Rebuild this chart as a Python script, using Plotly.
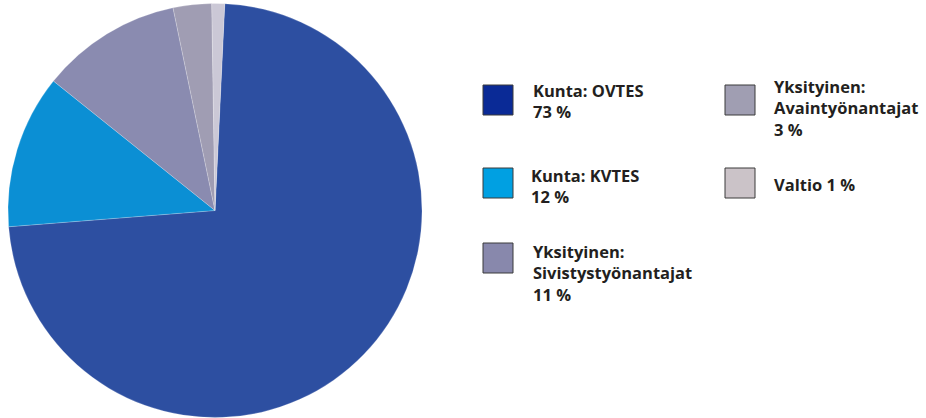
import plotly.graph_objects as go

labels = ["Kunta: OVTES", "Kunta: KVTES", "Yksityinen: Sivistystyönantajat",
          "Yksityinen: Avaintyönantajat", "Valtio"]
values = [73, 12, 11, 3, 1]
legend_texts = ["Kunta: OVTES<br>73 %", "Kunta: KVTES<br>12 %",
                "Yksityinen:<br>Sivistystyönantajat<br>11 %",
                "Yksityinen:<br>Avaintyönantajat<br>3 %", "Valtio 1 %"]

pie_colors = ["#2d4fa1", "#0b8fd4", "#8a8bb0", "#a09db3", "#cbc8d6"]
legend_colors = ["#0a2a96", "#00a0e2", "#8888ac", "#a09eb2", "#cbc3c8"]

W, H = 926, 418
# legend layout (pixel positions): square left x, square top y, text x, text center y
sq_x = [483, 483, 483, 725, 725]
sq_y = [85, 168, 243, 85, 168]
tx_x = [531, 529, 531, 772, 772]
tx_y = [101, 186, 273, 108, 185]
SQ = 30

fig = go.Figure(go.Pie(
    labels=labels, values=values, sort=False, direction="clockwise", rotation=2.7,
    marker=dict(colors=pie_colors, line=dict(color="rgba(255,255,255,0.4)", width=0.5)),
    textinfo="none", hoverinfo="label+percent", showlegend=False,
    domain=dict(x=[8 / W, 422 / W], y=[0, 1 - 3 / H]),
))

for i in range(len(labels)):
    fig.add_shape(type="rect", xref="paper", yref="paper",
                  x0=sq_x[i] / W, x1=(sq_x[i] + SQ) / W,
                  y0=1 - (sq_y[i] + SQ) / H, y1=1 - sq_y[i] / H,
                  fillcolor=legend_colors[i], line=dict(color="#3a3a3a", width=1))
    fig.add_annotation(xref="paper", yref="paper", x=tx_x[i] / W, y=1 - tx_y[i] / H,
                       xanchor="left", yanchor="middle", align="left", showarrow=False,
                       text="<b>" + legend_texts[i] + "</b>",
                       font=dict(family="Open Sans", size=16.5, color="#231f20"))

fig.update_layout(width=W, height=H, margin=dict(l=0, r=0, t=0, b=0),
                  paper_bgcolor="white", plot_bgcolor="white")
fig.write_html("out.html")
